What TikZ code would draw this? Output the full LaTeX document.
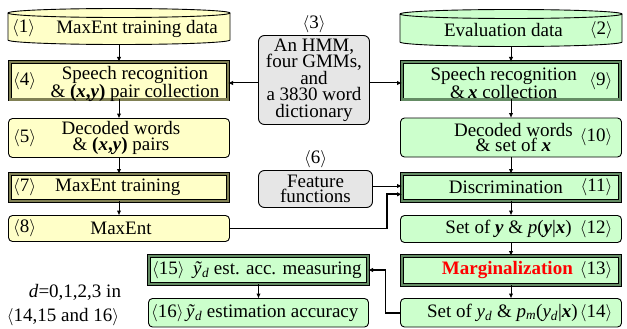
\documentclass[tikz,border=0pt]{standalone}
\usepackage{fontspec}
\setmainfont{Liberation Serif}
\usetikzlibrary{arrows.meta, positioning}
\definecolor{yfill}{RGB}{255,255,200}
\definecolor{gfill}{RGB}{204,255,204}
\definecolor{rfill}{RGB}{230,230,230}
\definecolor{yband}{RGB}{128,128,84}
\definecolor{gband}{RGB}{100,140,100}
\newcommand{\num}[1]{$\langle$#1$\rangle$}
\newcommand{\bx}{\textbf{\textit{x}}}
\newcommand{\by}{\textbf{\textit{y}}}

\begin{document}
\begin{tikzpicture}[
  x=1pt, y=1pt,
  font=\fontsize{19}{15.5}\selectfont,
  >=Latex,
  base/.style={minimum width=221pt, outer sep=0pt, inner sep=0pt, line width=0.9pt},
  ybox/.style={base, draw, rounded corners=4pt, fill=yfill},
  gbox/.style={base, draw, rounded corners=4pt, fill=gfill},
  yframe/.style={base, minimum width=218pt, draw, line width=0.6pt, double=yband, double distance=2.4pt, fill=yfill},
  gframe/.style={base, minimum width=218pt, draw, line width=0.6pt, double=gband, double distance=2.4pt, fill=gfill},
  store/.style={base, minimum width=222pt},
  resource/.style={draw, rounded corners=6pt, fill=rfill, line width=0.9pt, align=center, inner sep=0pt, outer sep=0pt},
  txt/.style={align=center, inner sep=0pt},
  tag/.style={inner sep=1pt},
  arr/.style={-{Latex[length=5pt,width=4.5pt]}, line width=1pt},
  heavy/.style={arr, line width=1.9pt}
]
\useasboundingbox (0,0) rectangle (627,-329);

% data stores
\node[store, minimum height=27pt] (b1) at (119,-26.5) {};
\node[store, minimum height=28pt] (b2) at (511,-28) {};
\draw[line width=0.9pt, fill=yfill] (b1.north west) -- (b1.south west)
  arc[start angle=180, end angle=360, x radius=111pt, y radius=4.5pt] -- (b1.north east)
  arc[start angle=0, end angle=180, x radius=111pt, y radius=4.5pt] -- cycle;
\draw[line width=0.9pt] (b1.north west) arc[start angle=180, end angle=360, x radius=111pt, y radius=4.5pt];
\draw[line width=0.9pt, fill=gfill] (b2.north west) -- (b2.south west)
  arc[start angle=180, end angle=360, x radius=111pt, y radius=4.5pt] -- (b2.north east)
  arc[start angle=0, end angle=180, x radius=111pt, y radius=4.5pt] -- cycle;
\draw[line width=0.9pt] (b2.north west) arc[start angle=180, end angle=360, x radius=111pt, y radius=4.5pt];

% left column
\node[yframe, minimum height=37.5pt, below=22pt of b1] (b4) {};
\node[ybox, minimum height=39pt, below=19pt of b4] (b5) {};
\node[yframe, minimum height=27pt, below=16.5pt of b5] (b7) {};
\node[ybox, minimum height=26pt, below=14.5pt of b7] (b8) {};

% right column
\node[gframe, minimum height=37.5pt, below=20pt of b2] (b9) {};
\node[gbox, minimum height=39pt, below=18.5pt of b9] (b10) {};
\node[gframe, minimum height=27pt, below=17pt of b10] (b11) {};
\node[gbox, minimum height=27pt, below=14.5pt of b11] (b12) {};
\node[gframe, minimum height=29pt, below=13.5pt of b12] (b13) {};
\node[gbox, minimum height=28.5pt, below=13.5pt of b13] (b14) {};

% accuracy measuring
\node[gframe, minimum width=219pt, minimum height=28pt] (b15) at (258.5,-270) {};
\node[gbox, minimum width=220pt, minimum height=28.5pt, below=14.5pt of b15] (b16) {};

% shared resources
\node[resource, minimum width=111pt, minimum height=89pt, font=\fontsize{19}{16.5}\selectfont] (b3) at (314,-80)
  {An HMM,\\four GMMs,\\and\\a 3830 word\\dictionary};
\node[resource, minimum width=114pt, minimum height=37pt] (b6) at (315.5,-189)
  {Feature\\functions};
\node[tag, anchor=south] (n3) at ([yshift=1pt]b3.north) {\num{3}};
\node[tag, anchor=south] (n6) at ([yshift=1pt]b6.north) {\num{6}};

% texts
\node[tag, anchor=west] (n1) at ([xshift=3pt,yshift=-2pt]b1.west) {\num{1}};
\node[txt, anchor=east] (t1) at ([xshift=-12pt,yshift=-2pt]b1.east) {MaxEnt training data};
\node[tag, anchor=east] (n2) at ([xshift=-8pt,yshift=-2pt]b2.east) {\num{2}};
\node[txt, anchor=east] (t2) at ([xshift=-59pt,yshift=-2pt]b2.east) {Evaluation data};

\node[tag, anchor=west] (n4) at ([xshift=2pt]b4.west) {\num{4}};
\node[txt] (t4) at ([xshift=16pt,yshift=-3pt]b4.center) {Speech recognition\\\& \textbf{(\textit{x},\textit{y})} pair collection};
\node[tag, anchor=west] (n5) at ([xshift=3.5pt]b5.west) {\num{5}};
\node[txt] (t5) at ([xshift=2pt]b5.center) {Decoded words\\\& \textbf{(\textit{x},\textit{y})} pairs};
\node[tag, anchor=west] (n7) at ([xshift=2pt]b7.west) {\num{7}};
\node[txt, anchor=west] (t7) at ([xshift=45pt]b7.west) {MaxEnt training};
\node[tag, anchor=west] (n8) at ([xshift=3.5pt]b8.west) {\num{8}};
\node[txt] (t8) at ([xshift=2pt]b8.center) {MaxEnt};

\node[tag, anchor=east] (n9) at ([xshift=-6.5pt]b9.east) {\num{9}};
\node[txt, anchor=east] (t9) at ([xshift=-43pt,yshift=-2pt]b9.east) {Speech recognition\\\&\,\bx{} collection};
\node[tag, anchor=east] (n10) at ([xshift=-8pt]b10.east) {\num{10}};
\node[txt, anchor=east] (t10) at ([xshift=-48.5pt]b10.east) {Decoded words\\\& set of \bx};
\node[tag, anchor=east] (n11) at ([xshift=-6.5pt]b11.east) {\num{11}};
\node[txt, anchor=east] (t11) at ([xshift=-57pt]b11.east) {Discrimination};
\node[tag, anchor=east] (n12) at ([xshift=-8pt]b12.east) {\num{12}};
\node[txt, anchor=east] (t12) at ([xshift=-49.5pt]b12.east) {Set of \by{} \& \textit{p}(\by|\bx)};
\node[tag, anchor=east] (n13) at ([xshift=-6.5pt]b13.east) {\num{13}};
\node[txt, anchor=east] (t13) at ([xshift=-47pt]b13.east) {\textcolor{red}{\textbf{Marginalization}}};
\node[tag, anchor=east] (n14) at ([xshift=-8pt]b14.east) {\num{14}};
\node[txt, anchor=east] (t14) at ([xshift=-43.5pt]b14.east)
  {Set of \textit{y}\textsubscript{\textit{d}} \& \textit{p}\textsubscript{\textit{m}}(\textit{y}\textsubscript{\textit{d}}|\bx)};

\node[tag, anchor=west] (n15) at ([xshift=2pt]b15.west) {\num{15}};
\node[txt, anchor=west] (t15) at ([xshift=44pt]b15.west) {\textit{ỹ}\textsubscript{\textit{d}} est. acc. measuring};
\node[tag, anchor=west] (n16) at ([xshift=1.5pt]b16.west) {\num{16}};
\node[txt, anchor=west] (t16) at ([xshift=37.5pt]b16.west) {\textit{ỹ}\textsubscript{\textit{d}} estimation accuracy};

\node[txt, font=\fontsize{19}{23.5}\selectfont] (dnote) at (63,-305) {\hspace*{24pt}\textit{d}=0,1,2,3 in\\$\langle$14,15 and 16$\rangle$};

% flow
\draw[arr] ([yshift=-4.5pt]b1.south) -- (b4);
\draw[arr] (b4) -- (b5);
\draw[arr] (b5) -- (b7);
\draw[arr] (b7) -- (b8);
\draw[arr] ([yshift=-4.5pt]b2.south) -- (b9);
\draw[arr] (b9) -- (b10);
\draw[arr] (b10) -- (b11);
\draw[arr] (b11) -- (b12);
\draw[arr] (b12) -- (b13);
\draw[arr] (b13) -- (b14);
\draw[arr] (b15) -- (b16);

% models and features
\draw[arr] ([yshift=-3pt]b3.west) -- ([yshift=-3pt]b3.west -| b4.east);
\draw[arr] ([yshift=-3pt]b3.east) -- ([yshift=-3pt]b3.east -| b9.west);
\coordinate (in1) at ([yshift=1.5pt]b11.west);
\coordinate (in2) at ([yshift=-6.8pt]b11.west);
\draw[arr] (b6.east |- in1) -- (in1);
\draw[heavy] (b8.east) -| ([xshift=-15pt]in2) -- (in2);
\draw[heavy] (b14.west) -- ++(-15pt,0) |- (b15.east);

\end{tikzpicture}
\end{document}
